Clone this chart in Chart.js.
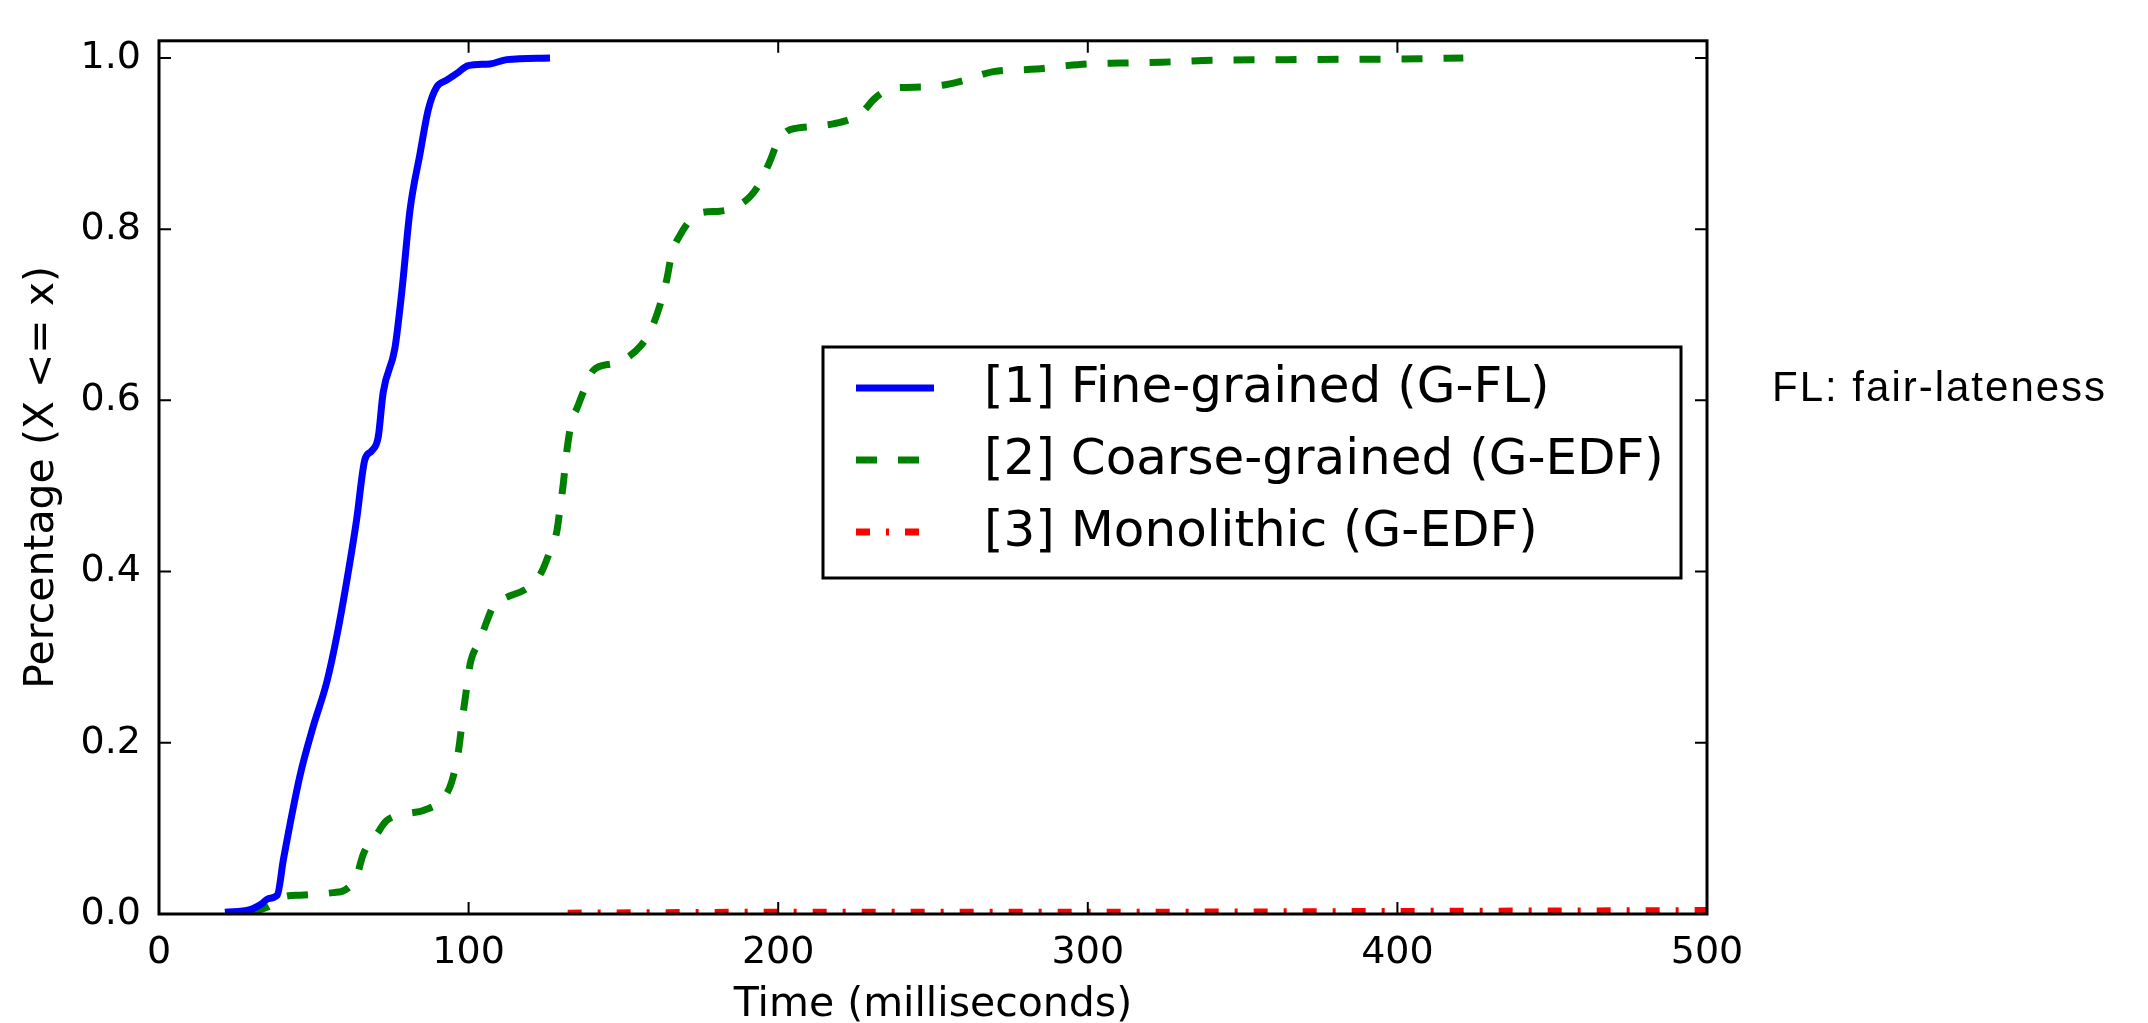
<!DOCTYPE html>
<html>
<head>
<meta charset="utf-8">
<script src="https://cdn.jsdelivr.net/npm/chart.js@4.4.0/dist/chart.umd.min.js"></script>
<style>
  body { margin: 0; background: #fff; }
  canvas { display: block; }
</style>
</head>
<body>
<canvas id="myChart" width="2148" height="1023"></canvas>
<script>
// data
var fineX = [21.3, 29.4, 33.2, 35.3, 38.2, 40.2, 45.5, 49.8, 54.2, 57.4, 60.6, 63.8, 66.5, 68.7, 70.8,
             72.4, 76.2, 78.4, 81.1, 84.3, 87.0, 89.7, 92.9, 96.2, 99.9, 106.9, 112.3, 126.3];
var fineY = [0.002, 0.005, 0.012, 0.018, 0.022, 0.064, 0.161, 0.219, 0.271, 0.324, 0.388, 0.46, 0.531, 0.541, 0.557,
             0.609, 0.661, 0.726, 0.823, 0.888, 0.94, 0.966, 0.974, 0.982, 0.991, 0.993, 0.998, 1.0];

var coarseX = [29, 35, 38, 41.2, 45.5, 56.3, 60.1, 63.8, 66.0, 70.3, 73.5, 80.0, 85.4, 91.8, 94.5,
               96.7, 98.3, 99.6, 100.5, 103.7, 105.8, 108.3, 112.3, 119.5, 123.5, 126.3, 128.5, 129.5, 130.5,
               131.7, 133.3, 134.9, 137.1, 140.3, 146.7, 150, 155.9, 158.6, 161.8, 164, 165.6, 168.3, 172.0,
               174.7, 181.2, 185, 190.9, 194.1, 197.4, 199.5, 202.7, 206, 211.3, 217.8, 224.3, 227.5, 230.7,
               233.4, 237.2, 246.9, 254.4, 260.3, 269.5, 283.5, 293.2, 300.2, 310.4, 323.9, 337.3, 364.2,
               407.3, 421.3];
var coarseY = [0.002, 0.008, 0.015, 0.021, 0.022, 0.025, 0.028, 0.044, 0.07, 0.093, 0.109, 0.117, 0.121, 0.135, 0.154,
               0.19, 0.236, 0.27, 0.292, 0.32, 0.341, 0.362, 0.37, 0.382, 0.399, 0.424, 0.447, 0.473, 0.5,
               0.54, 0.576, 0.59, 0.61, 0.635, 0.643, 0.647, 0.665, 0.68, 0.711, 0.741, 0.771, 0.793, 0.812,
               0.819, 0.821, 0.824, 0.838, 0.854, 0.88, 0.899, 0.914, 0.918, 0.92, 0.923, 0.93, 0.938, 0.951,
               0.959, 0.965, 0.966, 0.969, 0.974, 0.984, 0.987, 0.991, 0.993, 0.994, 0.995, 0.997, 0.998,
               0.999, 1.0];

var monoX = [132, 200, 300, 400, 500];
var monoY = [0.001, 0.002, 0.002, 0.003, 0.004];

var xTicks = [0, 100, 200, 300, 400, 500];
var yTicks = [0, 0.2, 0.4, 0.6, 0.8, 1.0];

var labels = ['[1] Fine-grained (G-FL)', '[2] Coarse-grained (G-EDF)', '[3] Monolithic (G-EDF)'];
var note = 'FL: fair-lateness';

function toPoints(xs, ys) {
    return xs.map(function (x, i) { return {x: x, y: ys[i]}; });
}

var font = 'DejaVu Sans';

// frame, inward ticks, legend box and side note
var extras = {
    id: 'extras',
    afterDatasetsDraw: function (chart) {
        var ctx = chart.ctx;
        var a = chart.chartArea;
        var xs = chart.scales.x, ys = chart.scales.y;
        ctx.save();
        ctx.strokeStyle = '#000';
        ctx.lineWidth = 2;
        ctx.beginPath();
        xTicks.forEach(function (v) {
            var px = xs.getPixelForValue(v);
            ctx.moveTo(px, a.bottom); ctx.lineTo(px, a.bottom - 12);
            ctx.moveTo(px, a.top); ctx.lineTo(px, a.top + 12);
        });
        yTicks.forEach(function (v) {
            var py = ys.getPixelForValue(v);
            ctx.moveTo(a.left, py); ctx.lineTo(a.left + 12, py);
            ctx.moveTo(a.right, py); ctx.lineTo(a.right - 12, py);
        });
        ctx.stroke();
        ctx.lineWidth = 3;
        ctx.strokeRect(a.left, a.top, a.right - a.left, a.bottom - a.top);

        // legend
        var bx = 823, by = 347, bw = 858, bh = 231;
        ctx.fillStyle = '#fff';
        ctx.fillRect(bx, by, bw, bh);
        ctx.strokeRect(bx, by, bw, bh);
        var rows = [388, 460, 532];
        chart.data.datasets.forEach(function (ds, i) {
            ctx.strokeStyle = ds.borderColor;
            ctx.lineWidth = ds.borderWidth;
            ctx.lineCap = 'butt';
            ctx.setLineDash(ds.borderDash || []);
            ctx.beginPath();
            ctx.moveTo(856, rows[i]);
            ctx.lineTo(934, rows[i]);
            ctx.stroke();
            ctx.setLineDash([]);
            ctx.fillStyle = '#000';
            ctx.font = '50px "' + font + '"';
            ctx.textBaseline = 'middle';
            ctx.textAlign = 'left';
            ctx.fillText(labels[i], 984, rows[i] + 1);
        });

        ctx.font = '42px "Liberation Sans"';
        ctx.letterSpacing = '2px';
        ctx.textBaseline = 'alphabetic';
        ctx.fillStyle = '#000';
        ctx.fillText(note, 1772, 401);
        ctx.restore();
    }
};

var ctx = document.getElementById('myChart').getContext('2d');
var myChart = new Chart(ctx, {
    type: 'line',
    data: {
        datasets: [{
            label: labels[0],
            data: toPoints(fineX, fineY),
            borderColor: '#0000ff',
            borderWidth: 7
        }, {
            label: labels[1],
            data: toPoints(coarseX, coarseY),
            borderColor: '#008000',
            borderWidth: 7,
            borderDash: [21, 21]
        }, {
            label: labels[2],
            data: toPoints(monoX, monoY),
            borderColor: '#ff0000',
            borderWidth: 7,
            borderDash: [14, 16, 3, 16]
        }]
    },
    options: {
        responsive: false,
        animation: false,
        devicePixelRatio: 1,
        layout: { padding: { left: 0, top: 14, right: 441, bottom: 0 } },
        elements: {
            point: { radius: 0 },
            line: { cubicInterpolationMode: 'monotone', borderCapStyle: 'butt', fill: false }
        },
        plugins: {
            legend: { display: false },
            tooltip: { enabled: false }
        },
        scales: {
            x: {
                type: 'linear',
                min: 0,
                max: 500,
                afterBuildTicks: function (s) { s.ticks = xTicks.map(function (v) { return {value: v}; }); },
                afterFit: function (s) { s.height = 109; },
                grid: { display: false, drawTicks: false },
                border: { display: false },
                ticks: {
                    color: '#000',
                    padding: 16,
                    maxRotation: 0,
                    font: { family: font, size: 38 },
                    callback: function (v) { return String(v); }
                },
                title: {
                    display: true,
                    text: 'Time (milliseconds)',
                    color: '#000',
                    font: { family: font, size: 41, lineHeight: 0.85 },
                    padding: { top: 0, bottom: 0 }
                }
            },
            y: {
                type: 'linear',
                min: 0,
                max: 1.02,
                afterBuildTicks: function (s) { s.ticks = yTicks.map(function (v) { return {value: v}; }); },
                afterFit: function (s) { s.width = 159; },
                grid: { display: false, drawTicks: false },
                border: { display: false },
                ticks: {
                    color: '#000',
                    padding: 18,
                    font: { family: font, size: 38 },
                    callback: function (v) { return v.toFixed(1); }
                },
                title: {
                    display: true,
                    text: 'Percentage (X <= x)',
                    color: '#000',
                    font: { family: font, size: 41, lineHeight: 1.2 },
                    padding: { top: 18, bottom: 0 }
                }
            }
        }
    },
    plugins: [extras]
});
</script>
</body>
</html>
